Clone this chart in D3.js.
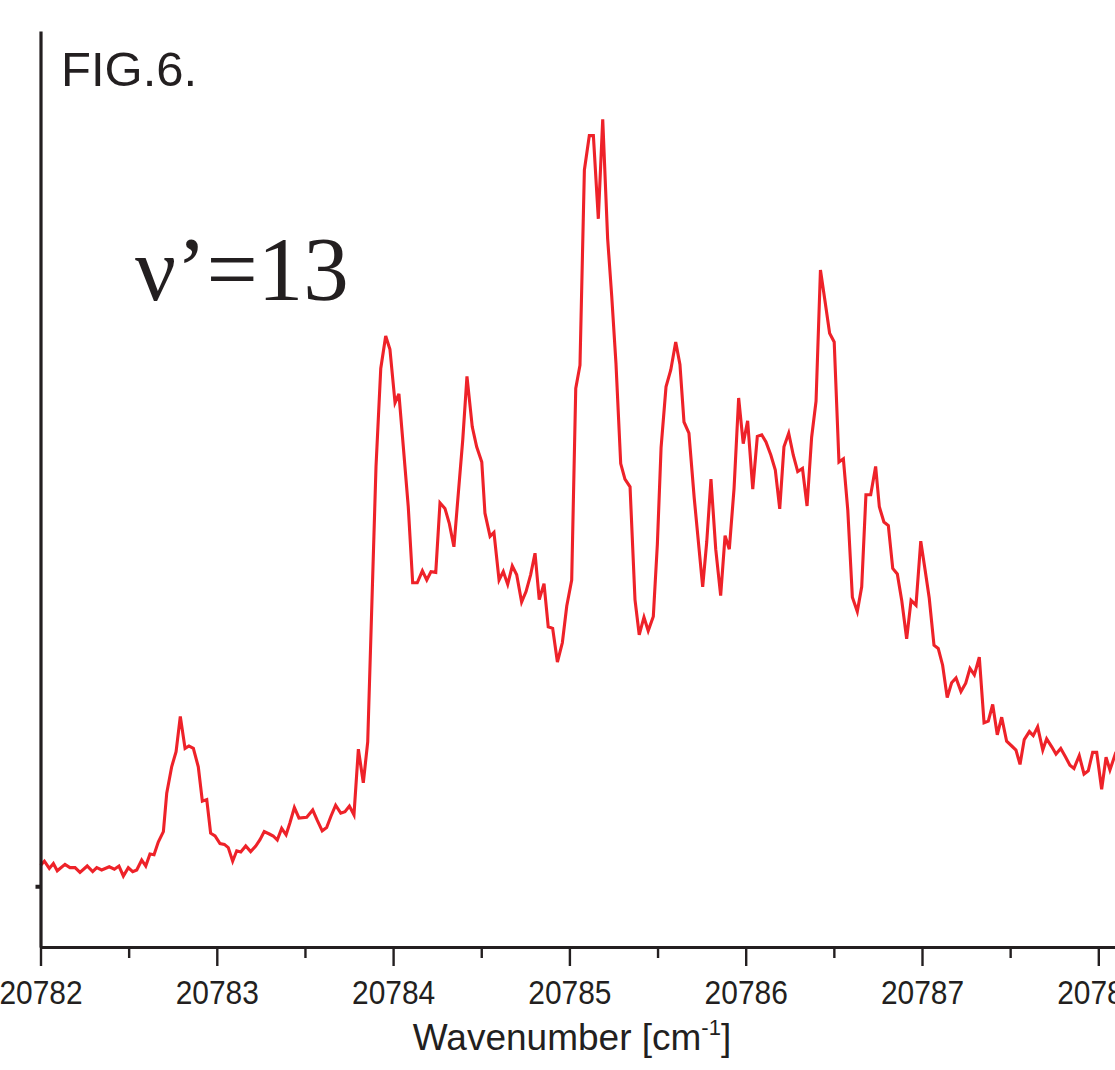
<!DOCTYPE html>
<html>
<head>
<meta charset="utf-8">
<script src="https://cdn.jsdelivr.net/npm/d3@7"></script>
<style>
  html, body { margin: 0; padding: 0; background: #fff; }
  svg { display: block; }
</style>
</head>
<body>
<svg id="chart" width="1115" height="1070"></svg>
<script>
// Excitation spectrum, v' = 13 band: wavenumber (cm^-1) vs. signal (arb. units)
const wavenumber = [
  20782.001, 20782.022, 20782.050, 20782.073, 20782.095, 20782.139, 20782.167, 20782.196,
  20782.224, 20782.265, 20782.296, 20782.319, 20782.347, 20782.390, 20782.419, 20782.445,
  20782.470, 20782.498, 20782.523, 20782.546, 20782.574, 20782.597, 20782.621, 20782.644,
  20782.668, 20782.697, 20782.716, 20782.744, 20782.769, 20782.793, 20782.820, 20782.842,
  20782.867, 20782.895, 20782.918, 20782.943, 20782.965, 20782.990, 20783.018, 20783.043,
  20783.065, 20783.090, 20783.113, 20783.136, 20783.164, 20783.192, 20783.221, 20783.245,
  20783.269, 20783.298, 20783.320, 20783.343, 20783.368, 20783.393, 20783.415, 20783.440,
  20783.466, 20783.510, 20783.544, 20783.570, 20783.598, 20783.623, 20783.648, 20783.674,
  20783.703, 20783.727, 20783.752, 20783.778, 20783.803, 20783.831, 20783.856, 20783.903,
  20783.930, 20783.958, 20783.982, 20784.011, 20784.033, 20784.058, 20784.086, 20784.111,
  20784.137, 20784.166, 20784.191, 20784.215, 20784.242, 20784.266, 20784.294, 20784.319,
  20784.345, 20784.370, 20784.395, 20784.419, 20784.449, 20784.474, 20784.503, 20784.521,
  20784.550, 20784.572, 20784.601, 20784.625, 20784.650, 20784.676, 20784.701, 20784.729,
  20784.754, 20784.780, 20784.805, 20784.829, 20784.856, 20784.880, 20784.905, 20784.932,
  20784.960, 20784.985, 20785.013, 20785.036, 20785.060, 20785.085, 20785.113, 20785.136,
  20785.164, 20785.189, 20785.217, 20785.240, 20785.264, 20785.291, 20785.315, 20785.344,
  20785.372, 20785.396, 20785.423, 20785.447, 20785.476, 20785.499, 20785.520, 20785.548,
  20785.575, 20785.603, 20785.627, 20785.650, 20785.678, 20785.708, 20785.756, 20785.779,
  20785.803, 20785.830, 20785.858, 20785.883, 20785.907, 20785.934, 20785.960, 20785.986,
  20786.011, 20786.040, 20786.066, 20786.091, 20786.115, 20786.143, 20786.168, 20786.193,
  20786.217, 20786.244, 20786.270, 20786.295, 20786.322, 20786.348, 20786.374, 20786.399,
  20786.424, 20786.450, 20786.476, 20786.502, 20786.529, 20786.554, 20786.579, 20786.605,
  20786.633, 20786.658, 20786.682, 20786.709, 20786.737, 20786.758, 20786.784, 20786.809,
  20786.834, 20786.860, 20786.885, 20786.913, 20786.938, 20786.966, 20786.993, 20787.017,
  20787.041, 20787.068, 20787.092, 20787.117, 20787.143, 20787.168, 20787.193, 20787.221,
  20787.248, 20787.272, 20787.297, 20787.325, 20787.352, 20787.376, 20787.401, 20787.427,
  20787.452, 20787.480, 20787.509, 20787.533, 20787.556, 20787.580, 20787.609, 20787.631,
  20787.656, 20787.685, 20787.707, 20787.736, 20787.760, 20787.787, 20787.815, 20787.839,
  20787.862, 20787.892, 20787.919, 20787.943, 20787.968, 20787.991, 20788.019, 20788.044,
  20788.066, 20788.095, 20788.120
];

const signal = [
  2.6, 3.1, 2.2, 2.8, 1.9, 2.7, 2.3, 2.3,
  1.7, 2.5, 1.8, 2.3, 2.0, 2.4, 2.1, 2.5,
  1.25, 2.3, 1.8, 2.0, 3.25, 2.5, 4.0, 3.9,
  5.5, 6.8, 11.6, 14.9, 16.8, 21.2, 17.2, 17.5,
  17.2, 14.9, 10.6, 10.8, 6.6, 6.25, 5.3, 5.2,
  4.8, 3.1, 4.4, 4.25, 5.0, 4.3, 5.0, 5.8,
  6.8, 6.5, 6.25, 5.75, 7.2, 6.4, 7.9, 9.8,
  8.5, 8.6, 9.5, 8.2, 6.9, 7.3, 8.75, 10.1,
  9.1, 9.3, 10.0, 8.9, 17.1, 12.9, 18.0, 52.4,
  64.7, 68.75, 67.1, 60.4, 61.5, 54.9, 47.4, 37.9,
  37.9, 39.4, 38.25, 39.3, 39.2, 47.9, 47.2, 45.3,
  42.4, 49.1, 55.75, 63.7, 57.4, 54.9, 53.0, 46.6,
  43.7, 44.2, 38.25, 39.3, 37.7, 40.0, 38.9, 35.5,
  36.8, 38.9, 41.6, 35.8, 37.8, 32.4, 32.2, 28.0,
  30.4, 35.0, 38.25, 62.2, 65.1, 89.5, 93.8, 93.8,
  83.4, 95.85, 80.9, 73.75, 65.4, 52.8, 50.85, 49.9,
  35.8, 31.4, 33.6, 31.9, 33.7, 42.75, 54.8, 62.4,
  64.5, 68.0, 65.2, 58.0, 56.6, 48.5, 37.4, 43.0,
  50.85, 42.1, 36.3, 43.8, 42.1, 49.7, 61.0, 55.3,
  58.15, 49.6, 56.2, 56.4, 55.5, 53.85, 52.0, 47.15,
  54.9, 56.6, 53.85, 51.8, 52.2, 47.5, 56.1, 60.6,
  77.0, 73.1, 69.1, 68.0, 53.0, 53.4, 47.0, 36.1,
  34.3, 37.4, 48.9, 48.9, 52.45, 47.4, 45.5, 45.05,
  39.7, 39.0, 35.7, 30.9, 35.7, 35.1, 43.1, 39.6,
  36.0, 30.1, 29.7, 27.6, 23.55, 25.4, 26.0, 24.3,
  25.35, 27.2, 26.4, 28.6, 20.4, 20.6, 22.7, 18.9,
  21.1, 18.1, 17.5, 17.0, 15.2, 18.3, 19.3, 18.8,
  19.9, 17.0, 18.4, 17.4, 16.5, 17.2, 16.1, 15.1,
  14.7, 16.3, 14.0, 14.4, 16.7, 16.7, 12.1, 16.1,
  14.5, 16.4, 15.6
];

// Axis ticks
const majorTicks = [20782, 20783, 20784, 20785, 20786, 20787, 20788];
const minorTicks = [20782.5, 20783.5, 20784.5, 20785.5, 20786.5, 20787.5];
const yTicks = [0];

const xTitle = "Wavenumber [cm";
const xTitleSup = "-1";
const figLabel = "FIG.6.";
const bandLabel = "\u03bd\u2019=13";

const svg = d3.select("#chart");
const ink = "#231f20";
const lineRed = "#ee2229";

const x = d3.scaleLinear()
  .domain([20782, 20788.2])
  .range([40.5, 40.5 + 6.2 * 176.3]);

const y = d3.scaleLinear()
  .domain([0, 100])
  .range([886, 86]);

const axisY = 947;

// Spectrum trace
const points = wavenumber.map((w, i) => ({ w, s: signal[i] }));
svg.append("path")
  .datum(points)
  .attr("fill", "none")
  .attr("stroke", lineRed)
  .attr("stroke-width", 3.1)
  .attr("stroke-linejoin", "miter")
  .attr("d", d3.line().x(d => x(d.w)).y(d => y(d.s)));

// Minor ticks on the wavenumber axis
svg.append("g")
  .attr("transform", `translate(0,${axisY})`)
  .call(d3.axisBottom(x).tickValues(minorTicks).tickSize(11).tickFormat(""))
  .call(g => g.select(".domain").remove())
  .call(g => g.selectAll("line").attr("stroke", ink).attr("stroke-width", 2.4));

// Major ticks and labels
const xAxisG = svg.append("g")
  .attr("transform", `translate(0,${axisY})`)
  .call(d3.axisBottom(x).tickValues(majorTicks).tickSize(19).tickPadding(14).tickFormat(d3.format("d")).tickSizeOuter(0));
xAxisG.select(".domain").attr("stroke", ink).attr("stroke-width", 3.2);
xAxisG.selectAll(".tick line").attr("stroke", ink).attr("stroke-width", 2.4);
xAxisG.selectAll(".tick text")
  .attr("fill", ink)
  .style("font-family", "'Liberation Sans', Arial, sans-serif")
  .style("font-size", "34px")
  .attr("transform", "scale(0.88,1)");

// Intensity axis: plain line with a single zero mark
const yAxisG = svg.append("g")
  .attr("transform", "translate(40.5,0)")
  .call(d3.axisLeft(y.copy().domain([-7.6, 107]).range([axisY, 31])).tickValues(yTicks).tickSize(5).tickFormat("").tickSizeOuter(0));
yAxisG.select(".domain").attr("stroke", ink).attr("stroke-width", 3.2);
yAxisG.selectAll(".tick line").attr("stroke", ink).attr("stroke-width", 4);

// Axis title with superscript
const title = svg.append("text")
  .attr("x", 572)
  .attr("y", 1050)
  .attr("text-anchor", "middle")
  .attr("fill", ink)
  .style("font-family", "'Liberation Sans', Arial, sans-serif")
  .style("font-size", "37px");
title.append("tspan").text(xTitle);
title.append("tspan").text(xTitleSup)
  .attr("dy", -15).style("font-size", "22px");
title.append("tspan").text("]")
  .attr("dy", 15);

// Figure tag and band label
svg.append("text")
  .attr("x", 61)
  .attr("y", 86)
  .attr("fill", ink)
  .style("font-family", "'Liberation Sans', Arial, sans-serif")
  .style("font-size", "49px")
  .text(figLabel);

svg.append("text")
  .attr("x", 135)
  .attr("y", 300)
  .attr("fill", ink)
  .style("font-family", "'Liberation Serif', 'Times New Roman', serif")
  .style("font-size", "91px")
  .text(bandLabel);
</script>
</body>
</html>
